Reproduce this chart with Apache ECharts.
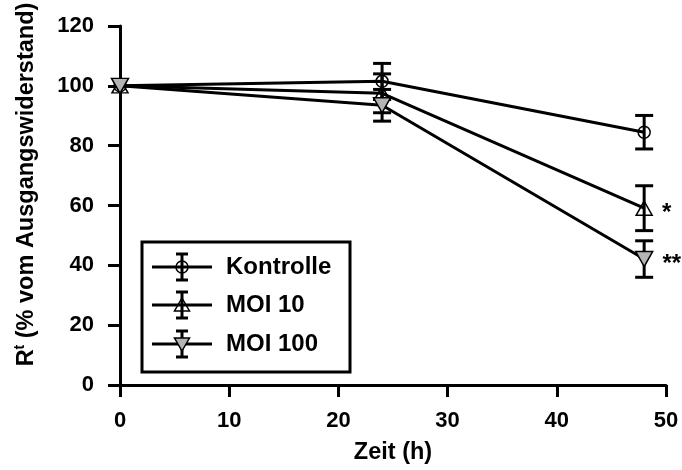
<!DOCTYPE html>
<html>
<head>
<meta charset="utf-8">
<script src="https://cdn.jsdelivr.net/npm/echarts@6/dist/echarts.min.js"></script>
<style>
  html, body { margin: 0; padding: 0; background: #fff; }
  #chart { width: 682px; height: 470px; }
</style>
</head>
<body>
<div id="chart"></div>
<script>
// Messzeitpunkte (h)
const hours = [0, 24, 48]

// Mittelwerte und Fehler (% vom Ausgangswiderstand)
const kontrolle = [100, 101.5, 84.5]
const kontrolleErr = [0, 6, 5.6]
const moi10 = [100, 97.5, 59.1]
const moi10Err = [0, 6.5, 7.5]
const moi100 = [100, 93.5, 42.1]
const moi100Err = [0, 5.3, 6.1]

// Signifikanz-Markierungen
const moi10Sig = ['', '', '*']
const moi100Sig = ['', '', '**']

const FONT = 'Liberation Sans, Arial, Helvetica, sans-serif'

const groups = [
  { name: 'Kontrolle', values: kontrolle, err: kontrolleErr, sig: null, symbol: 'circle', size: 12, rotate: 0, fill: 'rgba(255,255,255,0)' },
  { name: 'MOI 10', values: moi10, err: moi10Err, sig: moi10Sig, symbol: 'triangle', size: [16, 14], rotate: 0, fill: 'rgba(255,255,255,0)' },
  { name: 'MOI 100', values: moi100, err: moi100Err, sig: moi100Sig, symbol: 'triangle', size: [17, 15], rotate: 180, fill: '#b4b4b4' }
]

function renderErrorBar(params, api) {
  const x = api.value(0)
  const y = api.value(1)
  const e = api.value(2)
  if (!e) return { type: 'group', children: [] }
  const hi = api.coord([x, y + e])
  const lo = api.coord([x, y - e])
  const w = 9
  const st = { stroke: '#000', lineWidth: 3 }
  return {
    type: 'group',
    children: [
      { type: 'line', shape: { x1: hi[0], y1: hi[1], x2: lo[0], y2: lo[1] }, style: st },
      { type: 'line', shape: { x1: hi[0] - w, y1: hi[1], x2: hi[0] + w, y2: hi[1] }, style: st },
      { type: 'line', shape: { x1: lo[0] - w, y1: lo[1], x2: lo[0] + w, y2: lo[1] }, style: st }
    ]
  }
}

const errorSeries = groups.map(g => ({
  type: 'custom',
  name: g.name + ' err',
  renderItem: renderErrorBar,
  encode: { x: 0, y: 1 },
  data: hours.map((h, i) => [h, g.values[i], g.err[i]]),
  silent: true
}))

const lineSeries = groups.map(g => ({
  type: 'line',
  name: g.name,
  symbol: g.symbol,
  symbolSize: g.size,
  symbolRotate: g.rotate,
  lineStyle: { color: '#000', width: 3 },
  itemStyle: { color: g.fill, borderColor: '#000', borderWidth: 1.5 },
  data: hours.map((h, i) => ({
    value: [h, g.values[i]],
    label: g.sig && g.sig[i] ? {
      show: true,
      formatter: g.sig[i],
      position: 'right',
      distance: 9,
      offset: [0, 5],
      color: '#000',
      fontFamily: FONT,
      fontWeight: 'bold',
      fontSize: 24
    } : { show: false }
  })),
  animation: false
}))

// Legende mit Fehlerbalken im Symbol
const legendBox = { x: 142, y: 242, w: 208, h: 130 }
const legendRows = [267, 305, 344]
const legendGraphics = [{
  type: 'rect',
  shape: { x: legendBox.x, y: legendBox.y, width: legendBox.w, height: legendBox.h },
  style: { fill: '#fff', stroke: '#000', lineWidth: 3 },
  z: 10
}]
groups.forEach((g, i) => {
  const cy = legendRows[i]
  const cx = 182
  const st = { stroke: '#000', lineWidth: 3 }
  legendGraphics.push(
    { type: 'line', shape: { x1: 152, y1: cy, x2: 212, y2: cy }, style: st, z: 11 },
    { type: 'line', shape: { x1: cx, y1: cy - 13, x2: cx, y2: cy + 13 }, style: st, z: 11 },
    { type: 'line', shape: { x1: cx - 6, y1: cy - 13, x2: cx + 6, y2: cy - 13 }, style: st, z: 11 },
    { type: 'line', shape: { x1: cx - 6, y1: cy + 13, x2: cx + 6, y2: cy + 13 }, style: st, z: 11 }
  )
  const mstyle = { fill: g.fill, stroke: '#000', lineWidth: 1.5 }
  if (g.symbol === 'circle') {
    legendGraphics.push({ type: 'circle', shape: { cx, cy, r: 6 }, style: mstyle, z: 12 })
  } else if (g.rotate === 0) {
    legendGraphics.push({ type: 'polygon', shape: { points: [[cx, cy - 7], [cx + 7.5, cy + 6], [cx - 7.5, cy + 6]] }, style: mstyle, z: 12 })
  } else {
    legendGraphics.push({ type: 'polygon', shape: { points: [[cx, cy + 7], [cx + 7.5, cy - 6], [cx - 7.5, cy - 6]] }, style: mstyle, z: 12 })
  }
  legendGraphics.push({
    type: 'text',
    x: 226,
    y: cy,
    style: { text: g.name, fill: '#000', font: 'bold 24px ' + FONT, textVerticalAlign: 'middle' },
    z: 12
  })
})

const axisCommon = {
  axisLine: { lineStyle: { color: '#000', width: 3 } },
  axisTick: { length: 12, lineStyle: { color: '#000', width: 3 } },
  splitLine: { show: false }
}

const chart = echarts.init(document.getElementById('chart'), null, { renderer: 'canvas' })
chart.setOption({
  animation: false,
  grid: { left: 120, right: 16, top: 26, bottom: 81 },
  xAxis: Object.assign({}, axisCommon, {
    type: 'value',
    min: 0,
    max: 50,
    interval: 10,
    name: 'Zeit (h)',
    nameLocation: 'middle',
    nameGap: 56,
    nameTextStyle: { color: '#000', fontFamily: FONT, fontWeight: 'bold', fontSize: 23.5 },
    axisLabel: { color: '#000', fontFamily: FONT, fontWeight: 'bold', fontSize: 22, margin: 25 }
  }),
  yAxis: Object.assign({}, axisCommon, {
    type: 'value',
    min: 0,
    max: 120,
    interval: 20,
    name: 'R{sup|t} (% vom Ausgangswiderstand)',
    nameLocation: 'middle',
    nameGap: 80,
    nameTextStyle: {
      color: '#000', fontFamily: FONT, fontWeight: 'bold', fontSize: 23.5,
      padding: [0, 0, 0, 42],
      rich: { sup: { fontFamily: FONT, fontWeight: 'bold', fontSize: 14, padding: [0, 0, 13, 0] } }
    },
    axisLabel: { color: '#000', fontFamily: FONT, fontWeight: 'bold', fontSize: 22, margin: 26 }
  }),
  series: errorSeries.concat(lineSeries),
  graphic: legendGraphics
})

window.addEventListener('resize', () => chart.resize())
</script>
</body>
</html>
